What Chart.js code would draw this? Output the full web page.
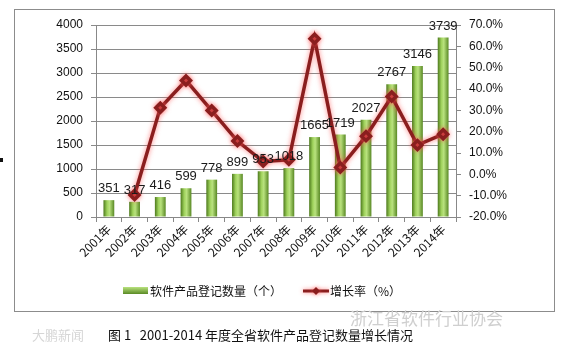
<!DOCTYPE html>
<html>
<head>
<meta charset="utf-8">
<script src="https://cdn.jsdelivr.net/npm/chart.js@4/dist/chart.umd.min.js"></script>
<style>
  html, body { margin: 0; padding: 0; background: #fff; }
  #wrap { position: relative; width: 572px; height: 347px; }
</style>
</head>
<body>
<div id="wrap"><canvas id="myChart" width="572" height="347"></canvas></div>
<script>
// data
const years = ['2001年', '2002年', '2003年', '2004年', '2005年', '2006年', '2007年',
  '2008年', '2009年', '2010年', '2011年', '2012年', '2013年', '2014年'];
const counts = [351, 317, 416, 599, 778, 899, 953, 1018, 1665, 1719, 2027, 2767, 3146, 3739];
const growth = [null, -9.7, 31.2, 44.0, 29.9, 15.6, 6.0, 6.8, 63.6, 3.2, 17.9, 36.5, 13.7, 18.8];
const countTicks = [0, 500, 1000, 1500, 2000, 2500, 3000, 3500, 4000];
const growthTicks = [-20, -10, 0, 10, 20, 30, 40, 50, 60, 70];

const CJK = '"Noto Sans CJK SC", sans-serif';
const NUM = '"Liberation Sans", Arial, sans-serif';
const lineRed = '#8a1e1e';

function barGradient(context) {
  const chart = context.chart;
  const x = chart.scales.x;
  if (!chart.chartArea || !x || context.dataIndex === undefined) return '#7fb33a';
  const cx = x.getPixelForValue(context.dataIndex);
  const g = chart.ctx.createLinearGradient(cx - 6, 0, cx + 6, 0);
  g.addColorStop(0, '#3f6b12');
  g.addColorStop(0.35, '#9fd25c');
  g.addColorStop(0.55, '#b9e27e');
  g.addColorStop(1, '#4c7d18');
  return g;
}

// frame, legend, caption, value labels, glow on the line
const extras = {
  id: 'extras',
  beforeDraw(chart) {
    const c = chart.ctx;
    c.save();
    c.fillStyle = '#fff';
    c.fillRect(0, 0, chart.width, chart.height);
    c.strokeStyle = '#8c8c8c';
    c.lineWidth = 1;
    c.strokeRect(14.5, 9.5, 540, 302);
    c.fillStyle = '#111';
    c.fillRect(0, 158, 3, 4);
    c.restore();
  },
  beforeDatasetDraw(chart, args) {
    if (args.index === 1) {
      const c = chart.ctx;
      c.save();
      c.shadowColor = 'rgba(255,90,90,0.75)';
      c.shadowBlur = 5;
    }
  },
  afterDatasetDraw(chart, args) {
    if (args.index === 1) chart.ctx.restore();
  },
  afterDraw(chart) {
    const c = chart.ctx;
    const meta = chart.getDatasetMeta(0);
    c.save();
    // value labels above bars
    c.font = '13px ' + NUM;
    c.fillStyle = '#1a1a1a';
    c.textAlign = 'center';
    c.textBaseline = 'bottom';
    meta.data.forEach((bar, i) => {
      c.fillText(String(counts[i]), bar.x, bar.y - 5);
    });

    // legend
    const ly = 291;
    const lg = c.createLinearGradient(0, ly - 4, 0, ly + 4);
    lg.addColorStop(0, '#b9e27e');
    lg.addColorStop(1, '#4c7d18');
    c.fillStyle = lg;
    c.fillRect(123, ly - 4, 25, 7);
    c.font = '12px ' + CJK;
    c.fillStyle = '#111';
    c.textAlign = 'left';
    c.textBaseline = 'middle';
    c.fillText('软件产品登记数量（个）', 150, ly);
    c.strokeStyle = lineRed;
    c.lineWidth = 3;
    c.shadowColor = 'rgba(255,90,90,0.75)';
    c.shadowBlur = 4;
    c.beginPath();
    c.moveTo(303, ly);
    c.lineTo(329, ly);
    c.stroke();
    c.fillStyle = lineRed;
    c.beginPath();
    c.moveTo(316, ly - 4);
    c.lineTo(320, ly);
    c.lineTo(316, ly + 4);
    c.lineTo(312, ly);
    c.closePath();
    c.fill();
    c.shadowBlur = 0;
    c.shadowColor = 'transparent';
    c.fillStyle = '#111';
    c.fillText('增长率（%）', 330, ly);

    // watermarks
    c.font = '17px ' + CJK;
    c.fillStyle = '#cfcfcf';
    c.fillText('浙江省软件行业协会', 350, 319);
    c.font = '13px ' + CJK;
    c.fillStyle = '#d6d6d6';
    c.fillText('大鹏新闻', 32, 335);

    // caption
    c.font = '13px ' + CJK;
    c.fillStyle = '#111';
    c.fillText('图 1   2001-2014 年度全省软件产品登记数量增长情况', 108, 335);
    c.restore();
  }
};

const ctx = document.getElementById('myChart').getContext('2d');
const myChart = new Chart(ctx, {
  data: {
    labels: years,
    datasets: [{
      type: 'bar',
      label: '软件产品登记数量（个）',
      data: counts,
      yAxisID: 'y',
      backgroundColor: barGradient,
      borderWidth: 0,
      barPercentage: 0.42,
      categoryPercentage: 1,
      order: 2
    }, {
      type: 'line',
      label: '增长率（%）',
      data: growth,
      yAxisID: 'y1',
      borderColor: lineRed,
      borderWidth: 3.5,
      pointStyle: 'rectRot',
      pointRadius: 4.5,
      pointBackgroundColor: lineRed,
      pointBorderColor: lineRed,
      tension: 0,
      spanGaps: false,
      order: 1
    }]
  },
  options: {
    responsive: false,
    animation: false,
    events: [],
    layout: { padding: { top: 25, left: 0, right: 0, bottom: 0 } },
    plugins: {
      legend: { display: false },
      tooltip: { enabled: false }
    },
    scales: {
      x: {
        grid: { drawOnChartArea: false, color: '#888', tickLength: 5, offset: true },
        border: { color: '#888' },
        ticks: {
          color: '#111',
          font: { size: 12, family: CJK },
          maxRotation: 45,
          minRotation: 45,
          padding: 0
        },
        afterFit(scale) { scale.height = 130; }
      },
      y: {
        position: 'left',
        min: 0,
        max: 4000,
        afterBuildTicks(scale) { scale.ticks = countTicks.map(v => ({ value: v })); },
        grid: { color: '#8a8a8a', tickLength: 5 },
        border: { color: '#888' },
        ticks: {
          color: '#111',
          font: { size: 12, family: NUM },
          padding: 8,
          callback: v => String(v)
        },
        afterFit(scale) { scale.width = 96; }
      },
      y1: {
        position: 'right',
        min: -20,
        max: 70,
        afterBuildTicks(scale) { scale.ticks = growthTicks.map(v => ({ value: v })); },
        grid: { drawOnChartArea: false, color: '#888', tickLength: 5 },
        border: { color: '#888' },
        ticks: {
          color: '#111',
          font: { size: 12, family: NUM },
          padding: 8,
          callback: v => v.toFixed(1) + '%'
        },
        afterFit(scale) { scale.width = 116; }
      }
    }
  },
  plugins: [extras]
});
</script>
</body>
</html>
